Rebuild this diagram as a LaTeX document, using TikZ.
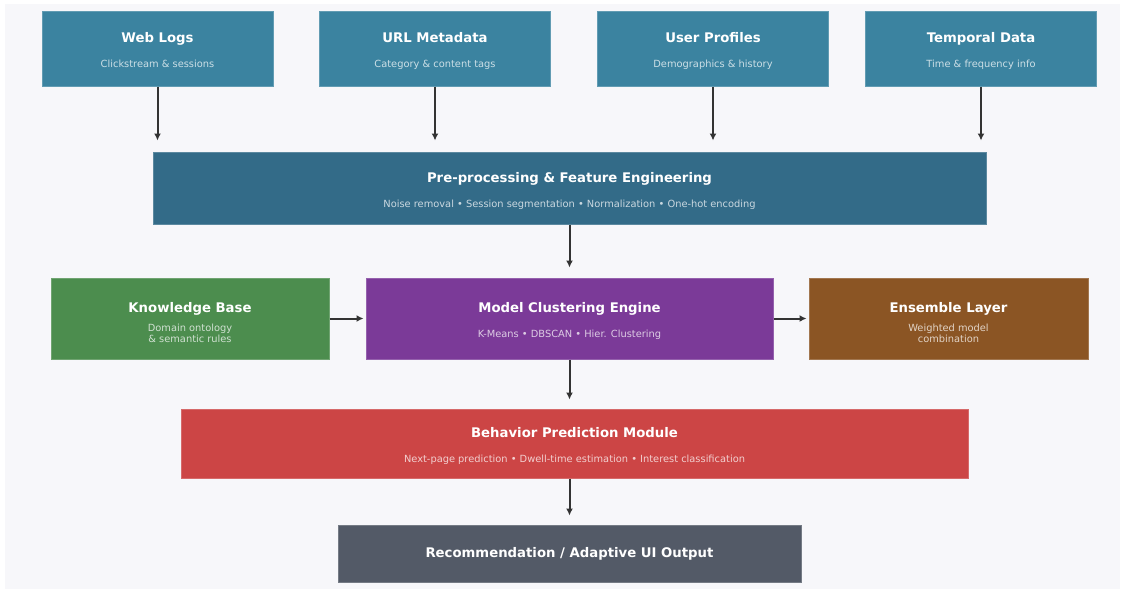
\documentclass[tikz,border=0pt]{standalone}
\usepackage{fontspec}
\setmainfont{DejaVu Sans}
\usetikzlibrary{arrows.meta}

\definecolor{srcblue}{HTML}{3B83A0}
\definecolor{prepblue}{HTML}{336B88}
\definecolor{kbgreen}{HTML}{4C8D4E}
\definecolor{mcpurple}{HTML}{7B3A98}
\definecolor{ensbrown}{HTML}{8B5524}
\definecolor{bpred}{HTML}{CC4545}
\definecolor{outslate}{HTML}{535A67}
\definecolor{canvas}{HTML}{F7F7FA}
\definecolor{wire}{HTML}{333333}

% bold title line (strut sets the gap above) and a smaller caption line
\newcommand\ttl[2][17.5pt]{{\fontsize{13.25}{15}\selectfont\bfseries\color{white}\rule{0pt}{#1}#2}}
\newcommand\subline[1]{#1\rule[-4pt]{0pt}{4pt}}

\tikzset{
  block/.style={rectangle, fill=#1, draw=#1!80!white, line width=1pt,
    text=white!74!#1, align=center, inner sep=0pt,
    font=\fontsize{9.85}{10.6}\selectfont},
  flow/.style={draw=wire, line width=2pt, -{Latex[length=7pt,width=7pt]}}
}

\begin{document}
\begin{tikzpicture}[x=1pt,y=-1pt]
  \useasboundingbox (0,0) rectangle (1122,589);
  \fill[canvas] (5,4) rectangle (1120,589);

  % sources
  \node[block=srcblue, minimum width=231, minimum height=75] (web) at (157.5,48.5)
    {\ttl{Web Logs}\\[14.5pt]\subline{Clickstream \& sessions}};
  \node[block=srcblue, minimum width=231, minimum height=75] (url) at (435,48.5)
    {\ttl{URL Metadata}\\[14.5pt]\subline{Category \& content tags}};
  \node[block=srcblue, minimum width=231, minimum height=75] (usr) at (713,48.5)
    {\ttl{User Profiles}\\[14.5pt]\subline{Demographics \& history}};
  \node[block=srcblue, minimum width=231, minimum height=75] (tmp) at (981,48.5)
    {\ttl{Temporal Data}\\[14.5pt]\subline{Time \& frequency info}};

  % pipeline
  \node[block=prepblue, minimum width=833, minimum height=72] (pre) at (569.5,188)
    {\ttl{Pre-processing \& Feature Engineering}\\[14pt]\subline{Noise removal • Session segmentation • Normalization • One-hot encoding}};
  \node[block=kbgreen, minimum width=278, minimum height=81] (kb) at (190,318.5)
    {\ttl[22pt]{Knowledge Base}\\[8pt]Domain ontology\\\subline{\& semantic rules}};
  \node[block=mcpurple, minimum width=407, minimum height=81] (mc) at (569.5,318.5)
    {\ttl{Model Clustering Engine}\\[14pt]\subline{K-Means • DBSCAN • Hier. Clustering}};
  \node[block=ensbrown, minimum width=279, minimum height=81] (ens) at (948.5,318.5)
    {\ttl[22pt]{Ensemble Layer}\\[8pt]Weighted model\\\subline{combination}};
  \node[block=bpred, minimum width=787, minimum height=69] (bp) at (574.5,443.5)
    {\ttl{Behavior Prediction Module}\\[14.5pt]\subline{Next-page prediction • Dwell-time estimation • Interest classification}};
  \node[block=outslate, minimum width=463, minimum height=57] (rec) at (569.5,553.5)
    {\ttl[0pt]{Recommendation / Adaptive UI Output}};

  \foreach \s in {web,url,usr,tmp}
    \draw[flow, shorten >=11pt] (\s.south) -- (\s.south |- pre.north);
  \draw[flow, shorten >=10pt] (pre) -- (mc);
  \draw[flow, shorten >=2pt] (kb) -- (mc);
  \draw[flow, shorten >=2pt] (mc) -- (ens);
  \draw[flow, shorten >=9pt] (mc.south) -- (mc.south |- bp.north);
  \draw[flow, shorten >=9pt] (mc.south |- bp.south) -- (rec);
\end{tikzpicture}
\end{document}
